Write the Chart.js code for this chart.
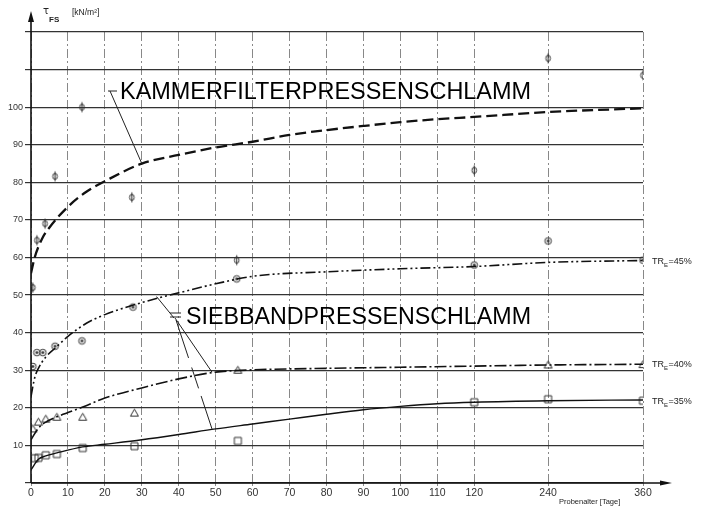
<!DOCTYPE html>
<html>
<head>
<meta charset="utf-8">
<script src="https://cdn.jsdelivr.net/npm/chart.js@4.4.1/dist/chart.umd.min.js"></script>
<style>
  html, body { margin: 0; padding: 0; background: #fff; }
  canvas { display: block; }
</style>
</head>
<body>
<canvas id="shearChart" width="705" height="510"></canvas>
<script>
// axis ticks
const xTickDays = [0, 10, 20, 30, 40, 50, 60, 70, 80, 90, 100, 110, 120, 240, 360];
const xTickLabels = ['0', '10', '20', '30', '40', '50', '60', '70', '80', '90', '100', '110', '120', '240', '360'];
const yTickLabels = ['', '10', '20', '30', '40', '50', '60', '70', '80', '90', '100', '', ''];

// fitted curves (days / kN/m2)
const kammerCurveDays = [0, 1, 3, 5, 10, 15, 20, 30, 40, 50, 60, 70, 80, 90, 100, 110, 120, 240, 360];
const kammerCurve = [55.8, 60, 65, 68, 73.5, 77.5, 80.3, 85, 87.3, 89.3, 90.8, 92.6, 93.9, 95, 96, 96.8, 97.4, 98.7, 99.7];

const tr45CurveDays = [0, 1, 2, 4, 7, 10, 15, 20, 30, 40, 50, 60, 80, 100, 120, 240, 360];
const tr45Curve = [23, 28, 30.5, 33.5, 36.3, 39, 42.5, 44.8, 48, 50.6, 53, 55, 56.2, 57, 57.6, 58.7, 59.2];

const tr40CurveDays = [0, 2, 4, 7, 14, 20, 30, 40, 50, 60, 80, 100, 120, 240, 360];
const tr40Curve = [11.5, 14.6, 16.2, 17.6, 20.2, 22.6, 25.3, 27.7, 29.5, 30.1, 30.5, 30.8, 31.1, 31.4, 31.6];

const tr35CurveDays = [0, 2, 4, 7, 14, 20, 30, 40, 50, 60, 70, 80, 90, 100, 110, 120, 240, 360];
const tr35Curve = [3.5, 6.3, 7.2, 8, 9.6, 10.3, 11.5, 12.9, 14.4, 15.7, 17, 18.3, 19.5, 20.4, 21.1, 21.5, 21.9, 22.1];

// measured points
const kammerPointDays = [0.5, 1.6, 3.8, 6.5, 13.8, 27.3, 55.7, 120, 240, 360];
const kammerPoints = [52, 64.6, 69, 81.6, 100, 76, 59.3, 83.2, 113, 108.5];

const tr45PointDays = [0.5, 1.6, 3.2, 6.5, 13.8, 27.6, 55.7, 120, 240, 360];
const tr45Points = [31, 34.7, 34.7, 36.4, 37.8, 46.8, 54.3, 58, 64.4, 59.3];

const tr40PointDays = [0.5, 2, 4, 7, 14, 28, 56, 240, 360];
const tr40Points = [14.4, 16.2, 17, 17.5, 17.5, 18.6, 30, 31.4, 31.5];

const tr35PointDays = [1, 2, 4, 7, 14, 28, 56, 120, 240, 360];
const tr35Points = [6.6, 6.7, 7.4, 7.7, 9.3, 9.8, 11.2, 21.5, 22.3, 21.9];

// the time axis is linear up to 120 days, then compressed
function dayToPos(d) {
  if (d <= 120) return d / 10;
  if (d <= 240) return 12 + (d - 120) / 60;
  return 14 + (d - 240) / 120 * 2.57;
}

function toXY(days, vals) {
  return days.map((d, i) => ({ x: dayToPos(d), y: vals[i] }));
}

function makeMarker(kind) {
  const c = document.createElement('canvas');
  c.width = 11; c.height = 13;
  const g = c.getContext('2d');
  g.strokeStyle = '#333';
  g.fillStyle = '#333';
  g.lineWidth = 1;
  g.beginPath();
  if (kind === 'phi') {
    g.ellipse(5.5, 6.5, 2.3, 3.1, 0, 0, Math.PI * 2);
    g.moveTo(5.5, 1.5); g.lineTo(5.5, 11.5);
  } else if (kind === 'circle') {
    g.arc(5.5, 6.5, 3.3, 0, Math.PI * 2);
    g.stroke();
    g.beginPath();
    g.arc(5.5, 6.5, 1.1, 0, Math.PI * 2);
    g.fill();
  } else if (kind === 'triangle') {
    g.moveTo(5.5, 2.5); g.lineTo(9.5, 9.5); g.lineTo(1.5, 9.5); g.closePath();
  } else {
    g.rect(2, 3, 7, 7);
  }
  g.stroke();
  return c;
}

const annotations = {
  id: 'annotations',
  afterDraw(chart) {
    const ctx = chart.ctx;
    const xs = chart.scales.x, ys = chart.scales.y;
    const px = d => xs.getPixelForValue(dayToPos(d));
    const py = v => ys.getPixelForValue(v);
    const a = chart.chartArea;
    ctx.save();

    // axes with arrows
    ctx.strokeStyle = '#111';
    ctx.fillStyle = '#111';
    ctx.lineWidth = 1.6;
    ctx.beginPath();
    ctx.moveTo(a.left, a.bottom); ctx.lineTo(a.left, 18);
    ctx.moveTo(a.left, a.bottom); ctx.lineTo(a.right + 22, a.bottom);
    ctx.stroke();
    ctx.beginPath();
    ctx.moveTo(a.left, 11); ctx.lineTo(a.left - 3, 22); ctx.lineTo(a.left + 3, 22); ctx.closePath();
    ctx.fill();
    ctx.beginPath();
    ctx.moveTo(a.right + 29, a.bottom); ctx.lineTo(a.right + 17, a.bottom - 2.5); ctx.lineTo(a.right + 17, a.bottom + 2.5); ctx.closePath();
    ctx.fill();

    // big labels
    function fitText(txt, x, baseline, width, size) {
      ctx.font = size + 'px "Liberation Sans", Arial, sans-serif';
      const w = ctx.measureText(txt).width;
      ctx.save();
      ctx.translate(x, baseline);
      ctx.scale(width / w, 1);
      ctx.fillStyle = '#000';
      ctx.textBaseline = 'alphabetic';
      ctx.fillText(txt, 0, 0);
      ctx.restore();
    }
    fitText('KAMMERFILTERPRESSENSCHLAMM', 120, 99, 411, 24);
    fitText('SIEBBANDPRESSENSCHLAMM', 186, 324, 345, 23);

    // leader lines
    ctx.strokeStyle = '#222';
    ctx.lineWidth = 1;
    ctx.setLineDash([]);
    ctx.beginPath();
    ctx.moveTo(108, 91); ctx.lineTo(117, 91);
    ctx.moveTo(110, 91); ctx.lineTo(px(30), py(85));
    ctx.moveTo(170, 313); ctx.lineTo(181, 313);
    ctx.moveTo(170, 317); ctx.lineTo(181, 317);
    ctx.moveTo(174, 318); ctx.lineTo(px(34), py(49.6));
    ctx.moveTo(175, 318); ctx.lineTo(px(49), py(29.5));
    ctx.stroke();
    ctx.setLineDash([40, 10, 22, 8]);
    ctx.beginPath();
    ctx.moveTo(176, 320); ctx.lineTo(px(49), py(14.4));
    ctx.stroke();
    ctx.setLineDash([]);

    // TR_E labels at the right
    function trLabel(pct, value) {
      const x = a.right + 9, y = py(value) + 3;
      ctx.fillStyle = '#222';
      ctx.textBaseline = 'alphabetic';
      ctx.font = '9px "Liberation Sans", Arial, sans-serif';
      ctx.fillText('TR', x, y);
      const w1 = ctx.measureText('TR').width;
      ctx.font = '6px "Liberation Sans", Arial, sans-serif';
      ctx.fillText('E', x + w1, y + 3);
      const w2 = ctx.measureText('E').width;
      ctx.font = '9px "Liberation Sans", Arial, sans-serif';
      ctx.fillText('=' + pct + '%', x + w1 + w2 + 0.5, y);
    }
    trLabel(45, 59.2);
    trLabel(40, 31.6);
    trLabel(35, 21.9);

    // axis titles
    ctx.fillStyle = '#222';
    ctx.font = '10px "DejaVu Sans", sans-serif';
    ctx.fillText('\u03C4', 43, 14);
    ctx.font = 'bold 8px "Liberation Sans", Arial, sans-serif';
    ctx.fillText('FS', 49, 22);
    ctx.font = '8.5px "Liberation Sans", Arial, sans-serif';
    ctx.fillText('[kN/m\u00B2]', 72, 15);
    ctx.font = '7.5px "Liberation Sans", Arial, sans-serif';
    ctx.fillText('Probenalter [Tage]', 559, 504);

    ctx.restore();
  }
};

const lineBase = { pointRadius: 0, fill: false, cubicInterpolationMode: 'monotone', borderColor: '#111' };
const pointBase = { showLine: false, pointRadius: 5, pointHoverRadius: 5 };

const datasets = [
  { ...lineBase, data: toXY(kammerCurveDays, kammerCurve), borderWidth: 2.3, borderDash: [11, 5] },
  { ...lineBase, data: toXY(tr45CurveDays, tr45Curve), borderWidth: 1.6, borderDash: [10, 3, 2, 3, 2, 3] },
  { ...lineBase, data: toXY(tr40CurveDays, tr40Curve), borderWidth: 1.6, borderDash: [12, 3, 2, 3] },
  { ...lineBase, data: toXY(tr35CurveDays, tr35Curve), borderWidth: 1.4 },
  { ...pointBase, data: toXY(kammerPointDays, kammerPoints), pointStyle: makeMarker('phi') },
  { ...pointBase, data: toXY(tr45PointDays, tr45Points), pointStyle: makeMarker('circle') },
  { ...pointBase, data: toXY(tr40PointDays, tr40Points), pointStyle: makeMarker('triangle') },
  { ...pointBase, data: toXY(tr35PointDays, tr35Points), pointStyle: makeMarker('square') }
];

const ctx = document.getElementById('shearChart').getContext('2d');
new Chart(ctx, {
  type: 'line',
  data: { datasets },
  options: {
    responsive: false,
    animation: false,
    devicePixelRatio: 1,
    layout: { padding: { top: 32, right: 62, bottom: 0, left: 0 } },
    plugins: { legend: { display: false }, tooltip: { enabled: false } },
    scales: {
      x: {
        type: 'linear',
        min: 0,
        max: dayToPos(360),
        afterBuildTicks: (scale) => { scale.ticks = xTickDays.map(d => ({ value: dayToPos(d) })); },
        afterFit: (scale) => { scale.height = 27; },
        grid: { color: '#888', lineWidth: 1, tickLength: 3 },
        border: { display: false, dash: [9, 3, 2, 3] },
        ticks: {
          autoSkip: false,
          maxRotation: 0,
          padding: 1,
          color: '#333',
          font: { family: 'Liberation Sans', size: 10.5 },
          callback: (v, i) => xTickLabels[i]
        }
      },
      y: {
        min: 0,
        max: 120,
        afterFit: (scale) => { scale.width = 31; },
        grid: { color: '#333', lineWidth: 1.2, tickLength: 6 },
        border: { display: false },
        ticks: {
          stepSize: 10,
          padding: 2,
          color: '#333',
          font: { family: 'Liberation Sans', size: 9 },
          callback: (v, i) => yTickLabels[i]
        }
      }
    }
  },
  plugins: [annotations]
});
</script>
</body>
</html>
